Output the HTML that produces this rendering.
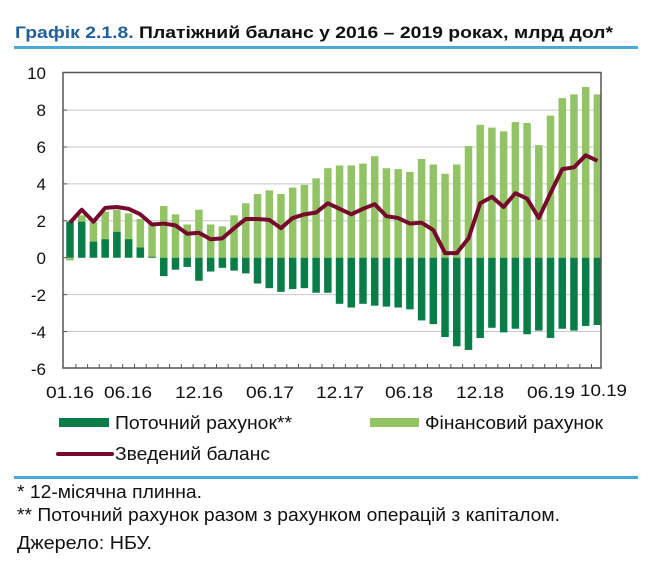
<!DOCTYPE html>
<html><head><meta charset="utf-8"><style>
body{margin:0;background:#fff;}
svg{display:block;font-family:"Liberation Sans",Arial,sans-serif;}
</style></head><body>
<svg width="650" height="564" viewBox="0 0 650 564" xmlns="http://www.w3.org/2000/svg">
<text x="15" y="38" font-size="17" font-weight="bold" textLength="598" lengthAdjust="spacingAndGlyphs"><tspan fill="#1f5f9c">Графік 2.1.8.</tspan><tspan fill="#111"> Платіжний баланс у 2016 – 2019 роках, млрд дол*</tspan></text>
<rect x="14" y="46" width="624" height="3" fill="#4aa8dc"/>
<g stroke="#c8c8c8" stroke-width="1">
<line x1="63" y1="110.1" x2="601" y2="110.1"/><line x1="63" y1="147" x2="601" y2="147"/><line x1="63" y1="183.9" x2="601" y2="183.9"/><line x1="63" y1="220.8" x2="601" y2="220.8"/><line x1="63" y1="294.6" x2="601" y2="294.6"/><line x1="63" y1="331.5" x2="601" y2="331.5"/>
</g>
<g transform="translate(0,257.7) scale(1,-18.45)">
<g fill="#92c465">
<rect x="66.25" y="-0.15" width="7.5" height="0.15"/>
<rect x="77.97" y="0" width="7.5" height="2.3"/>
<rect x="89.69" y="0" width="7.5" height="1.95"/>
<rect x="101.41" y="0" width="7.5" height="2.5"/>
<rect x="113.13" y="0" width="7.5" height="2.6"/>
<rect x="124.85" y="0" width="7.5" height="2.4"/>
<rect x="136.57" y="0" width="7.5" height="2.1"/>
<rect x="148.29" y="0" width="7.5" height="1.85"/>
<rect x="160.01" y="0" width="7.5" height="2.8"/>
<rect x="171.73" y="0" width="7.5" height="2.35"/>
<rect x="183.45" y="0" width="7.5" height="1.8"/>
<rect x="195.17" y="0" width="7.5" height="2.6"/>
<rect x="206.89" y="0" width="7.5" height="1.8"/>
<rect x="218.61" y="0" width="7.5" height="1.7"/>
<rect x="230.33" y="0" width="7.5" height="2.3"/>
<rect x="242.05" y="0" width="7.5" height="2.95"/>
<rect x="253.77" y="0" width="7.5" height="3.45"/>
<rect x="265.49" y="0" width="7.5" height="3.65"/>
<rect x="277.21" y="0" width="7.5" height="3.45"/>
<rect x="288.93" y="0" width="7.5" height="3.8"/>
<rect x="300.65" y="0" width="7.5" height="3.95"/>
<rect x="312.37" y="0" width="7.5" height="4.3"/>
<rect x="324.09" y="0" width="7.5" height="4.85"/>
<rect x="335.81" y="0" width="7.5" height="5.0"/>
<rect x="347.53" y="0" width="7.5" height="5.0"/>
<rect x="359.25" y="0" width="7.5" height="5.1"/>
<rect x="370.97" y="0" width="7.5" height="5.5"/>
<rect x="382.69" y="0" width="7.5" height="4.85"/>
<rect x="394.41" y="0" width="7.5" height="4.8"/>
<rect x="406.13" y="0" width="7.5" height="4.65"/>
<rect x="417.85" y="0" width="7.5" height="5.35"/>
<rect x="429.57" y="0" width="7.5" height="5.05"/>
<rect x="441.29" y="0" width="7.5" height="4.55"/>
<rect x="453.01" y="0" width="7.5" height="5.05"/>
<rect x="464.73" y="0" width="7.5" height="6.05"/>
<rect x="476.45" y="0" width="7.5" height="7.2"/>
<rect x="488.17" y="0" width="7.5" height="7.05"/>
<rect x="499.89" y="0" width="7.5" height="6.85"/>
<rect x="511.61" y="0" width="7.5" height="7.35"/>
<rect x="523.33" y="0" width="7.5" height="7.3"/>
<rect x="535.05" y="0" width="7.5" height="6.1"/>
<rect x="546.77" y="0" width="7.5" height="7.7"/>
<rect x="558.49" y="0" width="7.5" height="8.65"/>
<rect x="570.21" y="0" width="7.5" height="8.85"/>
<rect x="581.93" y="0" width="7.5" height="9.25"/>
<rect x="593.65" y="0" width="7.5" height="8.85"/>
</g>
<g fill="#087d48">
<rect x="66.25" y="0" width="7.5" height="1.95"/>
<rect x="77.97" y="0" width="7.5" height="1.95"/>
<rect x="89.69" y="0" width="7.5" height="0.87"/>
<rect x="101.41" y="0" width="7.5" height="1.0"/>
<rect x="113.13" y="0" width="7.5" height="1.4"/>
<rect x="124.85" y="0" width="7.5" height="1.0"/>
<rect x="136.57" y="0" width="7.5" height="0.55"/>
<rect x="148.29" y="0" width="7.5" height="0.05"/>
<rect x="160.01" y="-1.0" width="7.5" height="1.0"/>
<rect x="171.73" y="-0.65" width="7.5" height="0.65"/>
<rect x="183.45" y="-0.5" width="7.5" height="0.5"/>
<rect x="195.17" y="-1.25" width="7.5" height="1.25"/>
<rect x="206.89" y="-0.75" width="7.5" height="0.75"/>
<rect x="218.61" y="-0.55" width="7.5" height="0.55"/>
<rect x="230.33" y="-0.7" width="7.5" height="0.7"/>
<rect x="242.05" y="-0.85" width="7.5" height="0.85"/>
<rect x="253.77" y="-1.4" width="7.5" height="1.4"/>
<rect x="265.49" y="-1.65" width="7.5" height="1.65"/>
<rect x="277.21" y="-1.85" width="7.5" height="1.85"/>
<rect x="288.93" y="-1.7" width="7.5" height="1.7"/>
<rect x="300.65" y="-1.65" width="7.5" height="1.65"/>
<rect x="312.37" y="-1.9" width="7.5" height="1.9"/>
<rect x="324.09" y="-1.9" width="7.5" height="1.9"/>
<rect x="335.81" y="-2.5" width="7.5" height="2.5"/>
<rect x="347.53" y="-2.7" width="7.5" height="2.7"/>
<rect x="359.25" y="-2.5" width="7.5" height="2.5"/>
<rect x="370.97" y="-2.6" width="7.5" height="2.6"/>
<rect x="382.69" y="-2.65" width="7.5" height="2.65"/>
<rect x="394.41" y="-2.7" width="7.5" height="2.7"/>
<rect x="406.13" y="-2.8" width="7.5" height="2.8"/>
<rect x="417.85" y="-3.4" width="7.5" height="3.4"/>
<rect x="429.57" y="-3.6" width="7.5" height="3.6"/>
<rect x="441.29" y="-4.3" width="7.5" height="4.3"/>
<rect x="453.01" y="-4.8" width="7.5" height="4.8"/>
<rect x="464.73" y="-5.0" width="7.5" height="5.0"/>
<rect x="476.45" y="-4.35" width="7.5" height="4.35"/>
<rect x="488.17" y="-3.8" width="7.5" height="3.8"/>
<rect x="499.89" y="-4.05" width="7.5" height="4.05"/>
<rect x="511.61" y="-3.85" width="7.5" height="3.85"/>
<rect x="523.33" y="-4.15" width="7.5" height="4.15"/>
<rect x="535.05" y="-3.95" width="7.5" height="3.95"/>
<rect x="546.77" y="-4.35" width="7.5" height="4.35"/>
<rect x="558.49" y="-3.85" width="7.5" height="3.85"/>
<rect x="570.21" y="-3.95" width="7.5" height="3.95"/>
<rect x="581.93" y="-3.7" width="7.5" height="3.7"/>
<rect x="593.65" y="-3.65" width="7.5" height="3.65"/>
</g>
<polyline fill="none" stroke="#760a2c" stroke-width="4" stroke-linejoin="round" vector-effect="non-scaling-stroke" points="70,1.9 81.72,2.6 93.44,1.95 105.16,2.7 116.88,2.75 128.6,2.65 140.32,2.35 152.04,1.8 163.76,1.85 175.48,1.75 187.2,1.3 198.92,1.35 210.64,1.0 222.36,1.05 234.08,1.6 245.8,2.1 257.52,2.1 269.24,2.05 280.96,1.6 292.68,2.15 304.4,2.35 316.12,2.45 327.84,2.95 339.56,2.65 351.28,2.35 363,2.65 374.72,2.9 386.44,2.25 398.16,2.15 409.88,1.85 421.6,1.9 433.32,1.5 445.04,0.25 456.76,0.25 468.48,1.05 480.2,2.95 491.92,3.3 503.64,2.75 515.36,3.5 527.08,3.2 538.8,2.15 550.52,3.5 562.24,4.8 573.96,4.9 585.68,5.55 597.4,5.25"/>
</g>
<rect x="63" y="72.5" width="538" height="295.5" fill="none" stroke="#555" stroke-width="1.5"/>
<g stroke="#555" stroke-width="1">
<line x1="63" y1="110.1" x2="67" y2="110.1"/><line x1="63" y1="147" x2="67" y2="147"/><line x1="63" y1="183.9" x2="67" y2="183.9"/><line x1="63" y1="220.8" x2="67" y2="220.8"/><line x1="63" y1="257.7" x2="67" y2="257.7"/><line x1="63" y1="294.6" x2="67" y2="294.6"/><line x1="63" y1="331.5" x2="67" y2="331.5"/>
</g>
<path stroke="#555" stroke-width="1" d="M75.9 368v-4M87.6 368v-4M99.3 368v-4M111 368v-4M122.7 368v-4M134.5 368v-4M146.2 368v-4M157.9 368v-4M169.6 368v-4M181.3 368v-4M193.1 368v-4M204.8 368v-4M216.5 368v-4M228.2 368v-4M239.9 368v-4M251.7 368v-4M263.4 368v-4M275.1 368v-4M286.8 368v-4M298.5 368v-4M310.3 368v-4M322 368v-4M333.7 368v-4M345.4 368v-4M357.1 368v-4M368.9 368v-4M380.6 368v-4M392.3 368v-4M404 368v-4M415.7 368v-4M427.5 368v-4M439.2 368v-4M450.9 368v-4M462.6 368v-4M474.3 368v-4M486.1 368v-4M497.8 368v-4M509.5 368v-4M521.2 368v-4M532.9 368v-4M544.7 368v-4M556.4 368v-4M568.1 368v-4M579.8 368v-4M591.5 368v-4"/>
<g font-size="17" fill="#111" text-anchor="end">
<text x="46" y="79">10</text><text x="46" y="116">8</text><text x="46" y="153">6</text><text x="46" y="190">4</text><text x="46" y="227">2</text><text x="46" y="264">0</text><text x="46" y="301">-2</text><text x="46" y="338">-4</text><text x="46" y="375">-6</text>
</g>
<g font-size="17" fill="#111" lengthAdjust="spacingAndGlyphs">
<text x="46" y="398" textLength="48" lengthAdjust="spacingAndGlyphs">01.16</text>
<text x="104" y="398" textLength="48" lengthAdjust="spacingAndGlyphs">06.16</text>
<text x="175" y="398" textLength="48" lengthAdjust="spacingAndGlyphs">12.16</text>
<text x="246" y="398" textLength="48" lengthAdjust="spacingAndGlyphs">06.17</text>
<text x="316" y="398" textLength="48" lengthAdjust="spacingAndGlyphs">12.17</text>
<text x="385" y="398" textLength="48" lengthAdjust="spacingAndGlyphs">06.18</text>
<text x="456" y="398" textLength="48" lengthAdjust="spacingAndGlyphs">12.18</text>
<text x="527" y="398" textLength="48" lengthAdjust="spacingAndGlyphs">06.19</text>
<text x="580" y="396" textLength="47" lengthAdjust="spacingAndGlyphs">10.19</text>
</g>
<rect x="59" y="418" width="50" height="9" fill="#087d48"/>
<text x="115" y="429" font-size="18" fill="#111" textLength="177" lengthAdjust="spacingAndGlyphs">Поточний рахунок**</text>
<rect x="370" y="418" width="49" height="9" fill="#92c465"/>
<text x="425" y="429" font-size="18" fill="#111" textLength="178" lengthAdjust="spacingAndGlyphs">Фінансовий рахунок</text>
<line x1="58" y1="454" x2="112" y2="454" stroke="#760a2c" stroke-width="4" stroke-linecap="round"/>
<text x="115" y="460" font-size="18" fill="#111" textLength="155" lengthAdjust="spacingAndGlyphs">Зведений баланс</text>
<rect x="14" y="476" width="624" height="3" fill="#4aa8dc"/>
<g font-size="18" fill="#111">
<text x="17" y="498" textLength="185" lengthAdjust="spacingAndGlyphs">* 12-місячна плинна.</text>
<text x="17" y="521" textLength="543" lengthAdjust="spacingAndGlyphs">** Поточний рахунок разом з рахунком операцій з капіталом.</text>
<text x="17" y="549" textLength="135" lengthAdjust="spacingAndGlyphs">Джерело: НБУ.</text>
</g>
</svg>
</body></html>
